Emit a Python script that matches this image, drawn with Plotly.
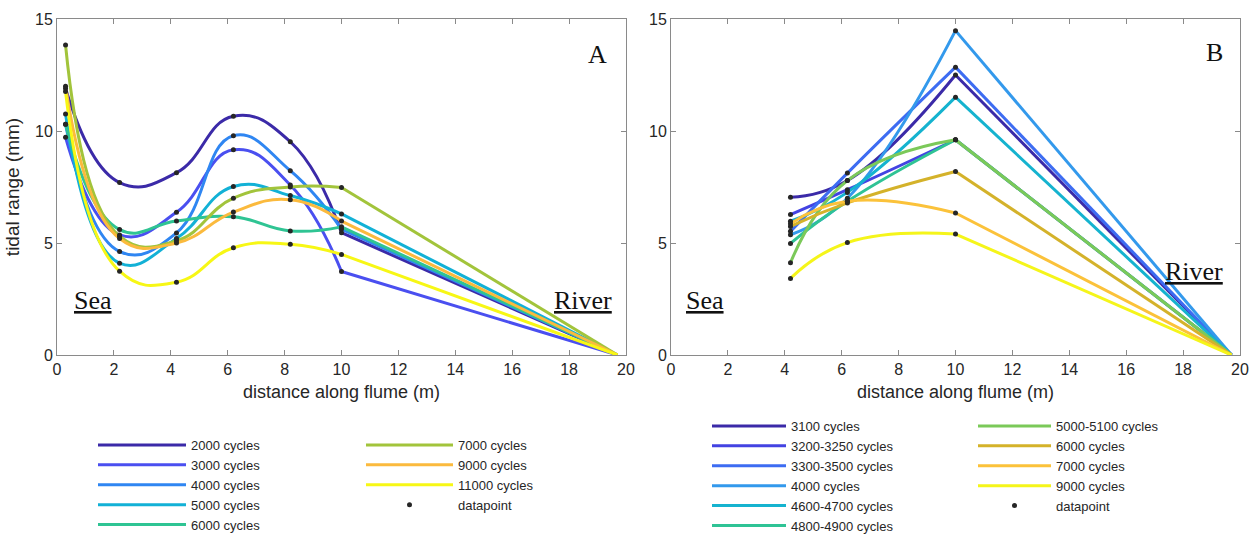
import plotly.graph_objects as go

# ---- Panel A: tidal range along the flume at several stages (cycles) ----
A_X = [0.3, 2.2, 4.2, 6.2, 8.2, 10.0]
A_LABELS = ["2000 cycles", "3000 cycles", "4000 cycles", "5000 cycles",
            "6000 cycles", "7000 cycles", "9000 cycles", "11000 cycles"]
A_2000 = [11.9, 7.70, 8.14, 10.66, 9.52, 5.46]
A_3000 = [9.72, 5.36, 6.37, 9.16, 7.59, 3.73]
A_4000 = [10.30, 4.62, 5.45, 9.79, 8.23, 5.62]
A_5000 = [10.76, 4.10, 5.20, 7.52, 7.12, 6.30]
A_6000 = [10.30, 5.60, 5.98, 6.17, 5.54, 5.72]
A_7000 = [13.84, 5.30, 5.10, 7.00, 7.50, 7.48]
A_9000 = [12.00, 5.20, 5.00, 6.38, 6.93, 5.98]
A_11000 = [11.76, 3.74, 3.25, 4.79, 4.94, 4.49]
A_SERIES = [A_2000, A_3000, A_4000, A_5000, A_6000, A_7000, A_9000, A_11000]
A_COLORS = ["#3b2aa8", "#4a4ff0", "#2f86f2", "#12b1d6",
            "#2fc493", "#a2c43b", "#fbba3d", "#f7f715"]

# ---- Panel B ----
B_X = [4.2, 6.2, 10.0]
B_LABELS = ["3100 cycles", "3200-3250 cycles", "3300-3500 cycles", "4000 cycles",
            "4600-4700 cycles", "4800-4900 cycles", "5000-5100 cycles",
            "6000 cycles", "7000 cycles", "9000 cycles"]
B_3100 = [7.04, 7.79, 12.50]
B_3200 = [6.27, 7.38, 9.61]
B_3300 = [5.52, 8.12, 12.85]
B_4000 = [5.37, 7.00, 14.48]
B_4600 = [5.97, 7.26, 11.51]
B_4800 = [4.98, 6.86, 9.61]
B_5000 = [4.12, 7.79, 9.61]
B_6000 = [5.74, 6.79, 8.19]
B_7000 = [5.86, 6.86, 6.34]
B_9000 = [3.42, 5.02, 5.40]
B_SERIES = [B_3100, B_3200, B_3300, B_4000, B_4600,
            B_4800, B_5000, B_6000, B_7000, B_9000]
B_COLORS = ["#3b2aa8", "#4343e2", "#3d6cf2", "#3399ec", "#15b3cf",
            "#2fc395", "#7bc959", "#d4b22a", "#fbc23a", "#f5f51a"]

# river end of the flume: tidal range vanishes
RIVER_X = 19.7
RIVER_Y = 0.0

SANS = "Liberation Sans, Arial, sans-serif"
SERIF = "Liberation Serif, Times New Roman, serif"
AXIS_GREY = "#8a8a8a"
TEXT = "#262626"
LW = 3

fig = go.Figure()


def add_panel(xs, series, labels, colors, xa, ya, legends, split):
    for i, (vals, name, col) in enumerate(zip(series, labels, colors)):
        lg = legends[0] if i < split else legends[1]
        grp = f"{xa}-{name}"
        # smooth curve through the measured stations
        fig.add_trace(go.Scatter(
            x=xs, y=vals, mode="lines", name=name, legendgroup=grp,
            legend=lg, line=dict(color=col, width=LW, shape="spline", smoothing=1.3),
            xaxis=xa, yaxis=ya))
        # straight reach from the last station to the river boundary
        fig.add_trace(go.Scatter(
            x=[xs[-1], RIVER_X], y=[vals[-1], RIVER_Y], mode="lines",
            showlegend=False, legendgroup=grp, legend=lg,
            line=dict(color=col, width=LW), xaxis=xa, yaxis=ya))
    # measured points
    px = [x for vals in series for x in xs]
    py = [v for vals in series for v in vals]
    fig.add_trace(go.Scatter(
        x=px, y=py, mode="markers", name="datapoint", legend=legends[1],
        marker=dict(color="#262626", size=5), xaxis=xa, yaxis=ya))


add_panel(A_X, A_SERIES, A_LABELS, A_COLORS, "x", "y", ["legend", "legend2"], 5)
add_panel(B_X, B_SERIES, B_LABELS, B_COLORS, "x2", "y2", ["legend3", "legend4"], 6)

W, H = 1258, 534
ydom = [1 - 355 / H, 1 - 19 / H]
axis_common = dict(
    showline=True, linecolor=AXIS_GREY, linewidth=1, mirror="ticks",
    ticks="inside", ticklen=5, tickcolor=AXIS_GREY, showgrid=False,
    zeroline=False, tickfont=dict(family=SANS, size=16, color=TEXT),
    fixedrange=True, automargin=False)

xaxis_common = dict(axis_common, range=[0, 20], dtick=2, tick0=0)
yaxis_common = dict(axis_common, range=[0, 15], dtick=5, tick0=0)

legend_common = dict(
    xanchor="left", yanchor="top", orientation="v", bgcolor="rgba(0,0,0,0)",
    font=dict(family=SANS, size=13, color=TEXT), traceorder="normal",
    tracegroupgap=0)

fig.update_layout(
    width=W, height=H,
    margin=dict(l=0, r=0, t=0, b=0, autoexpand=False),
    paper_bgcolor="white", plot_bgcolor="white",
    xaxis=dict(xaxis_common, domain=[57 / W, 626 / W], anchor="y",
               title=dict(text="distance along flume (m)", standoff=8,
                          font=dict(family=SANS, size=18, color=TEXT))),
    yaxis=dict(yaxis_common, domain=ydom, anchor="x",
               title=dict(text="tidal range (mm)", standoff=10,
                          font=dict(family=SANS, size=19, color=TEXT))),
    xaxis2=dict(xaxis_common, domain=[671 / W, 1240 / W], anchor="y2",
                title=dict(text="distance along flume (m)", standoff=8,
                           font=dict(family=SANS, size=18, color=TEXT))),
    yaxis2=dict(yaxis_common, domain=ydom, anchor="x2"),
    legend=dict(legend_common, x=93 / W, y=1 - 430 / H, itemwidth=88),
    legend2=dict(legend_common, x=361 / W, y=1 - 430 / H, itemwidth=87),
    legend3=dict(legend_common, x=707 / W, y=1 - 411 / H, itemwidth=74),
    legend4=dict(legend_common, x=973 / W, y=1 - 411 / H, itemwidth=73),
    showlegend=True,
)

# panel letters and flume-end labels
ann = [
    dict(text="A", x=19.0, y=13.4, xref="x", yref="y", size=26),
    dict(text="<u>Sea</u>", x=1.25, y=2.45, xref="x", yref="y", size=26),
    dict(text="<u>River</u>", x=18.5, y=2.45, xref="x", yref="y", size=26),
    dict(text="B", x=19.1, y=13.5, xref="x2", yref="y2", size=26),
    dict(text="<u>Sea</u>", x=1.2, y=2.45, xref="x2", yref="y2", size=26),
    dict(text="<u>River</u>", x=18.4, y=3.75, xref="x2", yref="y2", size=26),
]
for a in ann:
    fig.add_annotation(text=a["text"], x=a["x"], y=a["y"], xref=a["xref"],
                       yref=a["yref"], showarrow=False,
                       font=dict(family=SERIF, size=a["size"], color="#111111"))

fig.write_html("out.html")
